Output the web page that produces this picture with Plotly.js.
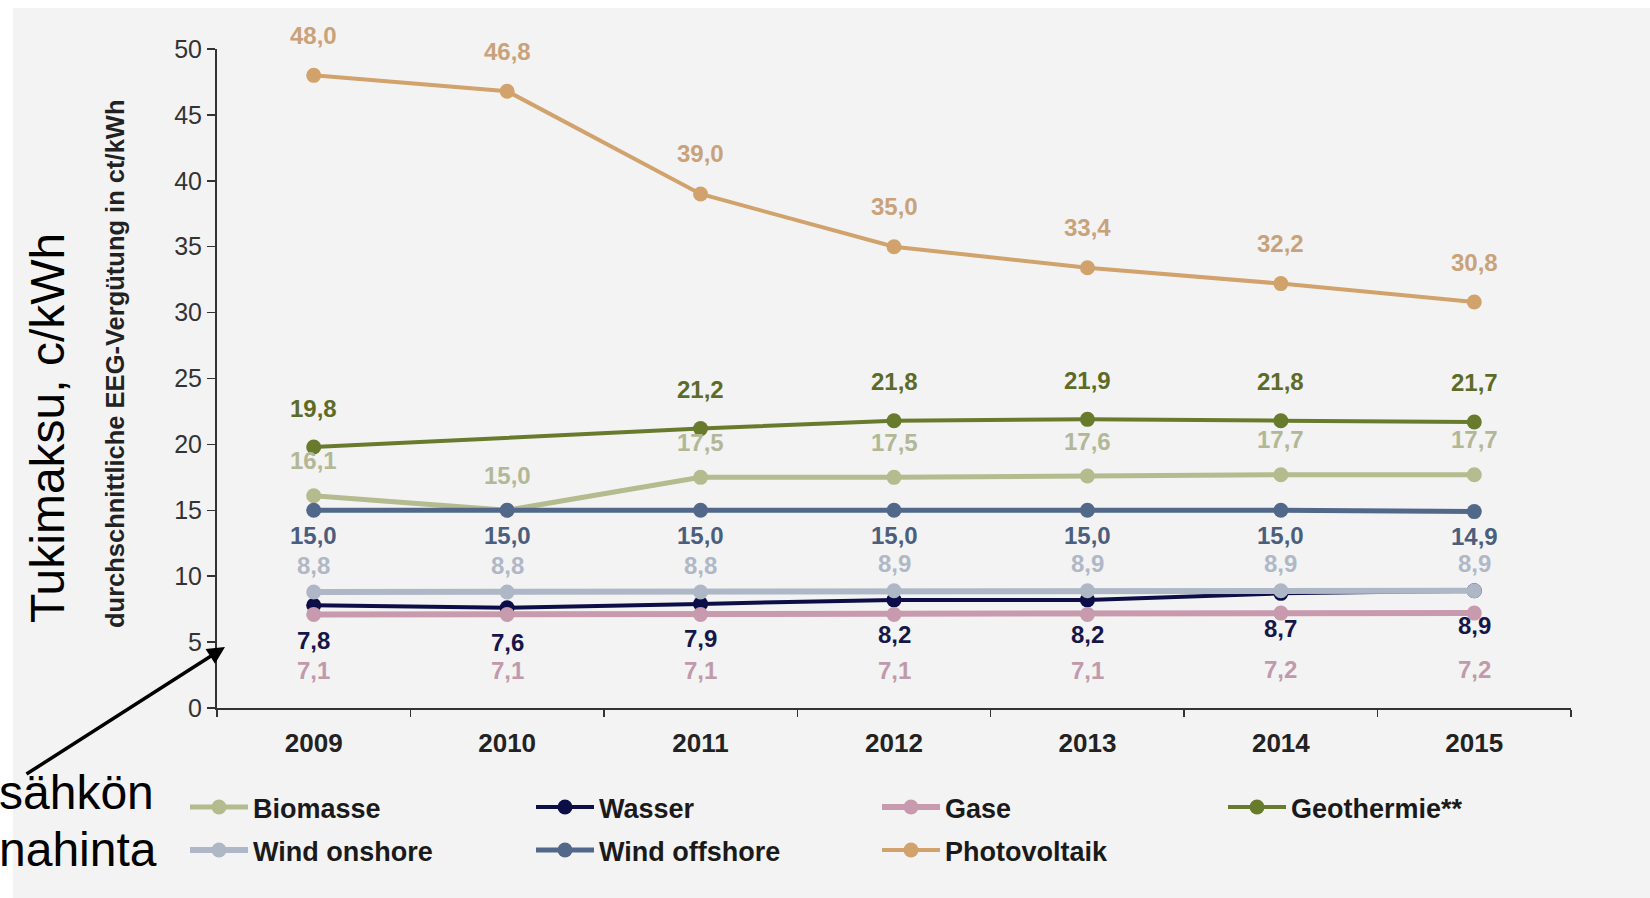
<!DOCTYPE html>
<html>
<head>
<meta charset="utf-8">
<script src="https://cdn.plot.ly/plotly-3.0.1.min.js"></script>
<style>
html,body{margin:0;padding:0;background:#fff;}
#chart{width:1650px;height:898px;}
</style>
</head>
<body>
<div id="chart"></div>
<script>
const years = ['2009','2010','2011','2012','2013','2014','2015'];
const yTicks = [0,5,10,15,20,25,30,35,40,45,50];

const biomasse     = [16.1, 15.0, 17.5, 17.5, 17.6, 17.7, 17.7];
const wasser       = [7.8, 7.6, 7.9, 8.2, 8.2, 8.7, 8.9];
const gase         = [7.1, 7.1, 7.1, 7.1, 7.1, 7.2, 7.2];
const geothermie   = [19.8, null, 21.2, 21.8, 21.9, 21.8, 21.7];
const windOnshore  = [8.8, 8.8, 8.8, 8.9, 8.9, 8.9, 8.9];
const windOffshore = [15.0, 15.0, 15.0, 15.0, 15.0, 15.0, 14.9];
const photovoltaik = [48.0, 46.8, 39.0, 35.0, 33.4, 32.2, 30.8];

const seriesNames = ['Biomasse','Wasser','Gase','Geothermie**','Wind onshore','Wind offshore','Photovoltaik'];

const FONT = '"Liberation Sans", Arial, sans-serif';

const styles = {
  'Biomasse':      {data: biomasse,     color:'#b4bb8f', label:'#b2b896', lw:5, shift:35, leg:'legend'},
  'Wasser':        {data: wasser,       color:'#0d0d48', label:'#16164a', lw:4, shift:-35, leg:'legend'},
  'Gase':          {data: gase,         color:'#c89aae', label:'#c09aaa', lw:6, shift:-56, leg:'legend'},
  'Geothermie**':  {data: geothermie,   color:'#687a2c', label:'#5d6b28', lw:4, shift:39, leg:'legend'},
  'Wind onshore':  {data: windOnshore,  color:'#adb7c6', label:'#b0b8c6', lw:6, shift:27, leg:'legend2'},
  'Wind offshore': {data: windOffshore, color:'#52688a', label:'#4b5e7e', lw:5, shift:-25, leg:'legend2'},
  'Photovoltaik':  {data: photovoltaik, color:'#d1a26c', label:'#c9a27a', lw:4, shift:40, leg:'legend2'}
};

const traces = seriesNames.map(name => {
  const s = styles[name];
  return {
    type:'scatter', mode:'lines+markers', name:name,
    x: years, y: s.data, connectgaps:true,
    line:{color:s.color, width:s.lw},
    marker:{color:s.color, size:15},
    legend:s.leg,
    hoverinfo:'skip'
  };
});

const annotations = [];
seriesNames.forEach(name => {
  const s = styles[name];
  s.data.forEach((v,i) => {
    if (v === null) return;
    annotations.push({
      x: i, y: v, xref:'x', yref:'y',
      text: v.toFixed(1).replace('.', ','),
      showarrow:false, yshift:s.shift,
      xanchor:'center', yanchor:'middle',
      font:{family:FONT, size:24, weight:'bold', color:s.label}
    });
  });
});

// axis titles and side texts
annotations.push({
  xref:'paper', yref:'paper', x:(115-217)/1354, y:(708-364)/659,
  text:'durchschnittliche EEG-Vergütung in ct/kWh', textangle:-90,
  showarrow:false, xanchor:'center', yanchor:'middle',
  font:{family:FONT, size:25.5, weight:'bold', color:'#222'}
});
annotations.push({
  xref:'paper', yref:'paper', x:(47-217)/1354, y:(708-428)/659,
  text:'Tukimaksu, c/kWh', textangle:-90,
  showarrow:false, xanchor:'center', yanchor:'middle',
  font:{family:FONT, size:48, color:'#000'}
});
annotations.push({
  xref:'paper', yref:'paper', x:(-3-217)/1354, y:(708-792)/659,
  text:'sähkön', showarrow:false, xanchor:'left', yanchor:'middle',
  font:{family:FONT, size:48, color:'#000'}
});
annotations.push({
  xref:'paper', yref:'paper', x:(-3-217)/1354, y:(708-849)/659,
  text:'nahinta', showarrow:false, xanchor:'left', yanchor:'middle',
  font:{family:FONT, size:48, color:'#000'}
});
annotations.push({
  xref:'paper', yref:'paper', x:(225-217)/1354, y:(708-647)/659,
  text:'', showarrow:true, ax:-200, ay:128, axref:'pixel', ayref:'pixel',
  arrowhead:2, arrowsize:1, arrowwidth:3.5, arrowcolor:'#000', standoff:0
});

const legendBase = {
  orientation:'h', x:(185-217)/1354, xanchor:'left', yanchor:'top',
  bgcolor:'rgba(0,0,0,0)', itemwidth:58, entrywidth:273, entrywidthmode:'pixels',
  font:{family:FONT, size:27, weight:'bold', color:'#1a1a1a'},
  traceorder:'normal', itemclick:false
};

const layout = {
  width:1650, height:898,
  margin:{l:217, r:79, t:49, b:190},
  paper_bgcolor:'#ffffff',
  plot_bgcolor:'rgba(0,0,0,0)',
  font:{family:FONT, color:'#222'},
  showlegend:true,
  legend: Object.assign({}, legendBase, {y:(708-783)/659}),
  legend2: Object.assign({}, legendBase, {y:(708-826)/659}),
  xaxis:{
    type:'category', range:[-0.5,6.5], tickson:'boundaries',
    ticks:'outside', ticklen:7, tickwidth:1.5, tickcolor:'#333',
    showline:true, linecolor:'#333', linewidth:2,
    showgrid:false, zeroline:false, fixedrange:true,
    ticklabelstandoff:11,
    tickfont:{family:FONT, size:26, weight:'bold', color:'#222'}
  },
  yaxis:{
    range:[0,50], tickvals:yTicks, ticktext:yTicks.map(String),
    ticks:'outside', ticklen:8, tickwidth:1.5, tickcolor:'#333',
    showline:true, linecolor:'#333', linewidth:2,
    showgrid:false, zeroline:false, fixedrange:true,
    tickfont:{family:FONT, size:25, color:'#333'}
  },
  shapes:[{
    type:'rect', xref:'paper', yref:'paper', layer:'below',
    x0:(13-217)/1354, x1:(1650-217)/1354, y0:(708-898)/659, y1:(708-8)/659,
    fillcolor:'#f3f3f3', line:{width:0}
  }],
  annotations:annotations
};

Plotly.newPlot('chart', traces, layout, {displayModeBar:false, staticPlot:true});
</script>
</body>
</html>
